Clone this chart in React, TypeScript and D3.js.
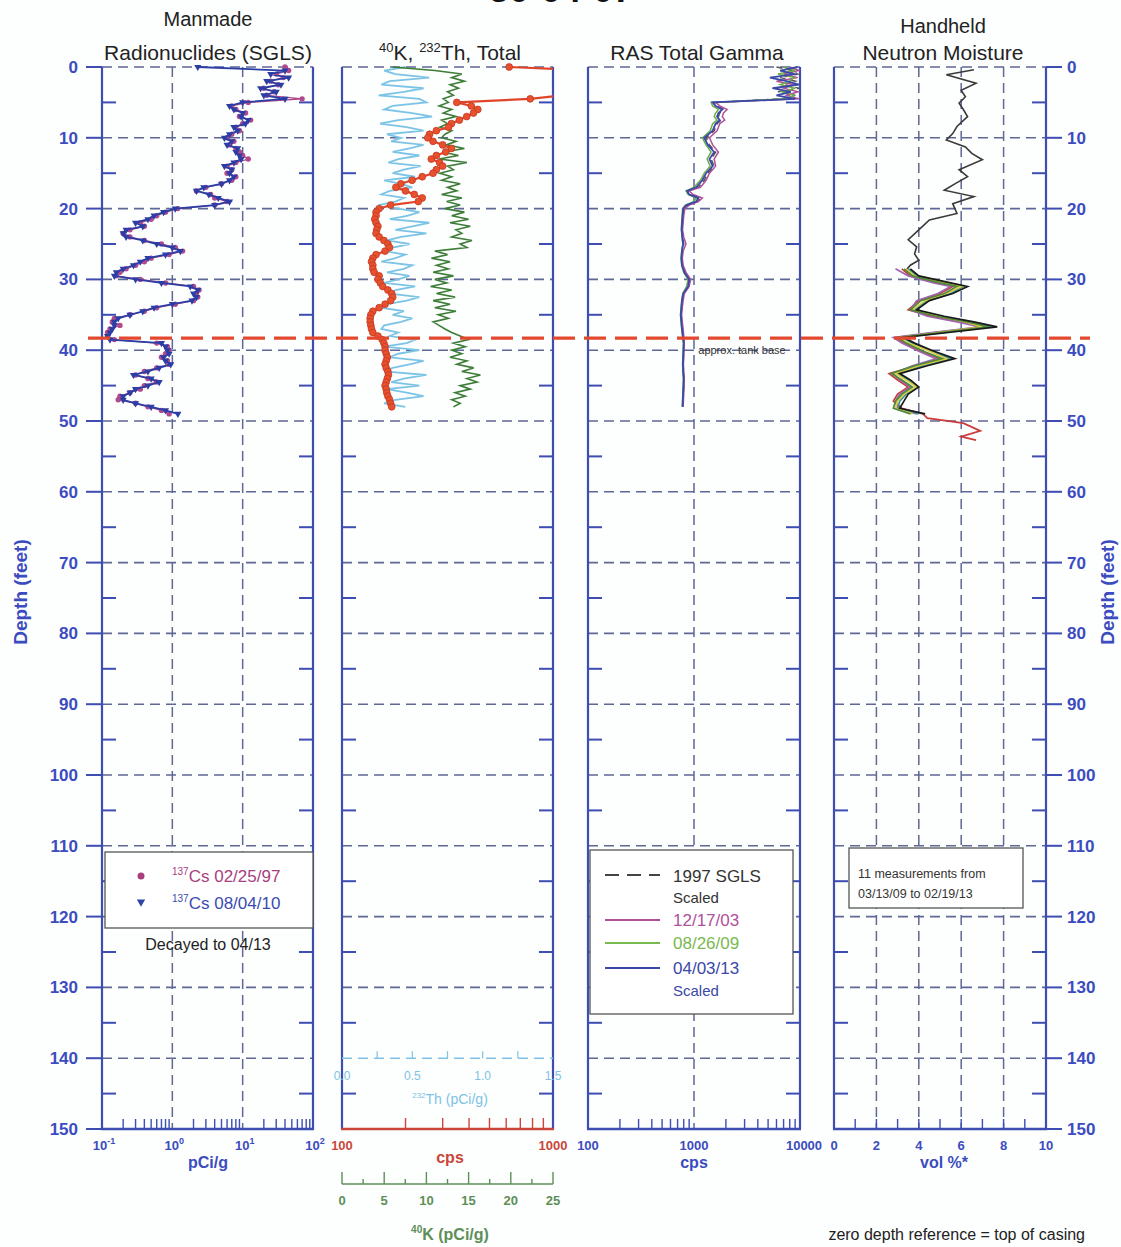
import { useEffect, useRef } from "react";
import * as d3 from "d3";

// depth sampling of the SGLS logs (feet)
const depthHalf = [0,0.5,1,1.5,2,2.5,3,3.5,4,4.5,5,5.5,6,6.5,7,7.5,8,8.5,9,9.5,10,10.5,11,11.5,12,12.5,13,13.5,14,14.5,15,15.5,16,16.5,17,17.5,18,18.5,19,19.5,20,20.5,21,21.5,22,22.5,23,23.5,24,24.5,25,25.5,26,26.5,27,27.5,28,28.5,29,29.5,30,30.5,31,31.5,32,32.5,33,33.5,34,34.5,35,35.5,36,36.5,37,37.5,38,38.5,39,39.5,40,40.5,41,41.5,42,42.5,43,43.5,44,44.5,45,45.5,46,46.5,47,47.5,48,48.5,49];

// 137Cs pCi/g
const cs1997 = [40,45,30,38,25,32,20,28,22,70, 12,7,8,11,9,13,10,8,9,7, 6,7.5,6.5,8,9,10,12,8,6,7, 6,8,7,5,3,2.2,3.5,4,6,4, 1.2,0.8,0.6,0.5,0.35,0.4,0.25,0.2,0.25,0.4, 0.7,1.1,1.4,0.9,0.5,0.4,0.3,0.22,0.18,0.16, 0.35,0.8,2.0,2.4,2.2,2.3,2.0,1.1,0.6,0.4, 0.25,0.15,0.14,0.18,0.13,0.12,0.12,0.15,0.6,0.85, 0.9,0.8,0.7,0.85,0.9,0.6,0.4,0.3,0.45,0.6, 0.4,0.35,0.25,0.18,0.17,0.3,0.45,0.7,0.9];
const cs2010 = [2.3,40,25,45,22,35,18,30,20,40, 10,6.5,7.5,10,9.5,12,11,7.5,8.5,6.5, 5.5,7,6,8.5,8,9,9.5,7.5,5.5,7, 6.5,7.5,6.5,5,2.8,2.2,3.3,4.5,6.5,4, 1.1,0.75,0.55,0.45,0.3,0.38,0.22,0.2,0.22,0.38, 0.6,1.0,1.3,0.8,0.45,0.35,0.28,0.2,0.16,0.15, 0.3,0.7,1.8,2.3,2.0,2.2,1.9,1.0,0.55,0.38, 0.25,0.17,0.15,0.15,0.14,0.13,0.12,0.13,0.7,0.8, 0.85,0.9,0.75,0.8,0.95,0.65,0.45,0.28,0.5,0.65, 0.45,0.3,0.25,0.2,0.2,0.3,0.5,0.8,1.2];

// 40K pCi/g, 232Th pCi/g, total gamma cps
const k40 = [6.0,11.0,14.2,13.0,14.5,12.8,13.8,12.5,13.2,12.0, 12.6,11.5,13.0,12.0,13.5,11.8,12.5,11.6,13.0,12.2, 11.8,13.5,12.4,14.5,12.0,13.8,11.5,14.8,12.5,13.2, 11.6,13.0,11.8,14.0,12.5,13.6,11.8,14.2,12.4,14.0, 12.2,14.5,13.0,15.0,12.8,15.2,13.5,14.2,13.0,15.4, 14.0,14.8,11.0,12.5,10.6,12.8,11.2,12.6,10.8,13.2, 11.0,12.4,10.5,13.0,11.2,13.4,10.8,12.8,11.0,13.5, 11.4,12.6,10.8,11.5,12.2,13.0,14.0,15.0,13.2,14.6, 13.0,14.2,12.8,14.8,13.6,15.6,14.2,16.4,14.8,16.0, 14.0,15.2,13.4,14.6,13.0,14.0,13.2,null,null];
const th232 = [0.45,0.30,0.38,0.62,0.34,0.28,0.58,0.44,0.26,0.55, 0.60,0.36,0.30,0.50,0.64,0.40,0.27,0.46,0.58,0.32, 0.42,0.35,0.58,0.48,0.36,0.55,0.40,0.33,0.56,0.44, 0.36,0.52,0.30,0.42,0.50,0.34,0.28,0.44,0.38,0.26, 0.40,0.55,0.47,0.34,0.62,0.50,0.38,0.60,0.42,0.32, 0.48,0.36,0.30,0.45,0.38,0.28,0.50,0.44,0.32,0.48, 0.40,0.30,0.52,0.38,0.34,0.55,0.46,0.32,0.28,0.44, 0.36,0.50,0.42,0.30,0.28,0.40,0.34,0.52,0.46,0.30, 0.55,0.40,0.34,0.58,0.48,0.36,0.30,0.60,0.44,0.35, 0.55,0.32,0.46,0.58,0.38,0.30,0.45,null,null];
const totalCps = [620,1500,1600,1500,1400,1500,1400,1300,1100,780, 350,410,440,420,390,360,330,320,280,260, 255,270,300,330,310,280,265,290,300,280, 270,240,215,190,180,200,220,240,230,170, 150,145,145,143,145,148,146,145,150,158, 165,168,160,145,140,138,140,140,142,150, 148,152,156,165,172,174,170,160,150,140, 137,136,136,137,138,140,148,155,158,160, 160,162,164,162,160,162,165,166,164,162, 160,162,163,165,168,170,172,null,null];

// RAS total gamma (cps)
const rasDepth = [0,0.5,1,1.5,2,2.5,3,3.5,4,4.5, 5,5.5,6,6.5,7,7.5,8, 9,10,11,12,13,14,15,16,17, 17.5,18,18.5,19,19.5,20, 21,22,23,24,25,26,27,28,29,30,31,32,33,34,35,36,37,38,39,40,41,42,43,44,45,46,47,48];
const ras1997 = [6000,8500,9500,6500,9000,7000,9800,6200,9000,6800, 1550,1650,1900,1750,1700,1800,1650, 1550,1300,1400,1600,1450,1550,1350,1250,1100, 880,940,1150,1080,870,800, 790,780,770,785,800,780,765,780,820,910,890,800,780,765,755,765,780,790,805,800,795,790,795,805,800,795,790,785];
const ras2003 = [8000,9800,7000,9500,6000,8800,7000,9600,7500,9800, 1600,1750,2050,1900,1850,1950,1750, 1650,1400,1500,1700,1550,1600,1400,1300,1150, 900,980,1200,1100,900,820, 800,790,780,800,840,790,775,790,840,930,900,810,790,775,765,775,790,800,810,805,800,795,800,810,805,800,795,790];
const ras2009 = [7000,9000,6200,8800,8000,6500,9000,6800,8800,7500, 1450,1500,1700,1600,1550,1650,1500, 1420,1200,1300,1450,1330,1420,1250,1150,1000, 840,880,1050,1000,830,780, 775,765,760,770,785,765,755,765,800,880,850,785,765,755,745,755,765,780,795,790,785,780,785,795,790,785,780,775];
const ras2013 = [9500,6500,9000,5200,7500,9800,5500,8200,6000,9000, 1500,1600,1850,1700,1650,1750,1600, 1500,1250,1350,1550,1400,1500,1300,1200,1050, 860,900,1100,1050,850,790, 780,770,765,775,790,770,760,770,810,900,880,790,770,760,750,760,770,785,800,795,790,785,790,800,795,790,785,780];

// neutron moisture (vol %)
const nmUpperDepth = [0.4,1.1,2.3,3.3,4.2,5.1,6.0,7.0,8.4,9.4,10.3,11.3,12.2,13.1,14.5,15.5,16.5,17.4,18.3,19.3,20.7,21.6,23.0,24.4,25.4,26.4,27.3,28.0,28.7];
const nmUpper = [6.6,5.3,6.7,6.0,6.2,5.9,6.1,6.3,5.8,5.6,5.3,6.2,6.5,7.0,5.9,6.3,5.7,5.2,6.6,5.6,5.8,4.5,4.0,3.5,3.9,3.8,4.0,3.6,3.4];
const nmLowerDepth = [28.5,29.5,30.5,31.0,32.0,33.0,34.3,35.2,36.0,36.7,37.5,38.2,39.0,40.0,41.2,42.2,43.3,44.2,45.2,46.2,47.2,48.2,49.0];
const nmBlack = [3.6,4.0,5.5,6.3,5.6,4.5,3.9,5.2,6.6,7.7,5.4,3.3,3.8,4.6,5.7,4.4,3.1,3.6,4.0,3.5,3.3,3.1,4.3];
const nmGreen = [3.3,3.7,5.0,5.8,5.2,4.1,3.6,4.8,6.3,7.3,5.0,3.0,3.4,4.1,5.1,3.8,2.7,3.2,3.7,3.2,2.9,2.8,3.6];
const nmYellow = [3.4,3.8,5.2,6.0,5.3,4.3,3.7,4.9,6.2,7.0,4.9,3.1,3.5,4.4,5.3,4.0,2.9,3.4,3.9,3.3,3.0,2.9,3.7];
const nmMagenta = [2.9,3.5,4.7,5.5,4.9,3.9,3.6,4.4,5.8,6.9,4.6,2.8,3.2,3.9,4.8,3.7,2.8,3.1,3.6,3.1,2.9,3.0,3.9];
const nmTeal = [3.5,3.9,5.3,6.1,5.5,4.4,3.8,5.0,6.4,7.4,5.2,3.2,3.7,4.5,5.5,4.2,3.0,3.5,3.9,3.4,3.1,3.0,4.0];
const nmRedDepth = [28.5,29.5,30.5,31.0,32.0,33.0,34.3,35.2,36.0,36.7,37.5,38.2,39.0,40.0,41.2,42.2,43.3,44.2,45.2,46.2,47.2,48.2,49.0,49.6,50.3,51.4,52.2,52.7];
const nmRed = [3.2,3.6,4.9,5.6,5.0,4.0,3.5,4.6,6.0,7.1,4.8,2.9,3.3,4.0,5.0,3.9,2.6,3.0,3.5,3.0,2.8,3.2,4.2,4.4,6.1,6.9,6.0,6.7];

const depthTicks = [0,10,20,30,40,50,60,70,80,90,100,110,120,130,140,150];
const tankBase = 38.3;

const AXIS = "#3d4db2";
const GRID = "#5e6795";
const LABEL = "#3b4cc0";
const FONT = "'Liberation Sans', Arial, sans-serif";

function App() {
  const ref = useRef<SVGSVGElement>(null);

  useEffect(() => {
    const svg = d3.select(ref.current);
    svg.selectAll("*").remove();

    const y = d3.scaleLinear().domain([0, 150]).range([67, 1129]);
    const yTop = y(0), yBot = y(150);

    const xCs = d3.scaleLog().domain([0.1, 100]).range([102, 313]);
    const xTot = d3.scaleLog().domain([100, 1000]).range([342, 553]);
    const xK = d3.scaleLinear().domain([0, 25]).range([342, 553]);
    const xTh = d3.scaleLinear().domain([0, 1.5]).range([342, 553]);
    const xRas = d3.scaleLog().domain([100, 10000]).range([588, 800]);
    const xNm = d3.scaleLinear().domain([0, 10]).range([834, 1046]);

    const panels = [
      { id: "p1", x0: 102, x1: 313, vgrid: [xCs(1), xCs(10)], bottom: AXIS },
      { id: "p2", x0: 342, x1: 553, vgrid: [] as number[], bottom: "#c9473a" },
      { id: "p3", x0: 588, x1: 800, vgrid: [xRas(1000)], bottom: AXIS },
      { id: "p4", x0: 834, x1: 1046, vgrid: [2, 4, 6, 8].map((v) => xNm(v)), bottom: AXIS },
    ];

    const defs = svg.append("defs");
    panels.forEach((p) => {
      defs.append("clipPath").attr("id", "clip-" + p.id)
        .append("rect").attr("x", p.x0).attr("y", yTop - 4)
        .attr("width", p.x1 - p.x0).attr("height", yBot - yTop + 4);
    });

    const text = (x: number, yy: number, s: string, size: number, fill: string, anchor = "middle", weight = "normal") =>
      svg.append("text").attr("x", x).attr("y", yy).attr("font-size", size)
        .attr("fill", fill).attr("text-anchor", anchor).attr("font-weight", weight).text(s);

    // chart title (cut at top of page, as in the scan)
    text(561, 2, "30-04-07", 36, "#111", "middle", "bold");

    // panel titles
    text(208, 26, "Manmade", 20, "#222");
    text(208, 60, "Radionuclides (SGLS)", 21, "#222");
    const t2 = svg.append("text").attr("x", 450).attr("y", 60).attr("font-size", 21)
      .attr("fill", "#222").attr("text-anchor", "middle");
    t2.append("tspan").attr("font-size", 13).attr("dy", -8).text("40");
    t2.append("tspan").attr("dy", 8).text("K, ");
    t2.append("tspan").attr("font-size", 13).attr("dy", -8).text("232");
    t2.append("tspan").attr("dy", 8).text("Th, Total");
    text(697, 60, "RAS Total Gamma", 21, "#222");
    text(943, 33, "Handheld", 20, "#222");
    text(943, 60, "Neutron Moisture", 21, "#222");

    // grids, borders, ticks
    panels.forEach((p) => {
      const g = svg.append("g");
      depthTicks.slice(0, 15).forEach((d) => {
        if (p.id === "p2" && d === 140) return;
        g.append("line").attr("x1", p.x0).attr("x2", p.x1).attr("y1", y(d)).attr("y2", y(d))
          .attr("stroke", GRID).attr("stroke-width", 1.6).attr("stroke-dasharray", "10,6");
      });
      p.vgrid.forEach((vx) => {
        g.append("line").attr("x1", vx).attr("x2", vx).attr("y1", yTop).attr("y2", yBot)
          .attr("stroke", GRID).attr("stroke-width", 1.5).attr("stroke-dasharray", "10,6");
      });
      d3.range(5, 150, 10).forEach((d) => {
        g.append("line").attr("x1", p.x0).attr("x2", p.x0 + 14).attr("y1", y(d)).attr("y2", y(d))
          .attr("stroke", AXIS).attr("stroke-width", 2);
        g.append("line").attr("x1", p.x1 - 14).attr("x2", p.x1).attr("y1", y(d)).attr("y2", y(d))
          .attr("stroke", AXIS).attr("stroke-width", 2);
      });
      [p.x0, p.x1].forEach((bx) => {
        g.append("line").attr("x1", bx).attr("x2", bx).attr("y1", yTop).attr("y2", yBot)
          .attr("stroke", AXIS).attr("stroke-width", 2.2);
      });
      g.append("line").attr("x1", p.x0 - 1).attr("x2", p.x1 + 1).attr("y1", yBot).attr("y2", yBot)
        .attr("stroke", p.bottom).attr("stroke-width", 2.4);
    });

    // bottom ticks
    const bottomTicks = (xs: (v: number) => number, vals: number[], color: string, len: number) => {
      vals.forEach((v) => {
        svg.append("line").attr("x1", xs(v)).attr("x2", xs(v)).attr("y1", yBot).attr("y2", yBot - len)
          .attr("stroke", color).attr("stroke-width", 1.4);
      });
    };
    const logMinor = (decades: number[]) => decades.flatMap((k) => [2, 3, 4, 5, 6, 7, 8, 9].map((m) => m * k));
    bottomTicks(xCs, logMinor([0.1, 1, 10]), AXIS, 10);
    bottomTicks(xTot, logMinor([100]), "#c9473a", 11);
    bottomTicks(xRas, logMinor([100, 1000]), AXIS, 10);
    bottomTicks(xNm, [1, 2, 3, 4, 5, 6, 7, 8, 9], AXIS, 10);

    // depth axes
    depthTicks.forEach((d) => {
      svg.append("line").attr("x1", 86).attr("x2", 102).attr("y1", y(d)).attr("y2", y(d))
        .attr("stroke", AXIS).attr("stroke-width", 2);
      svg.append("line").attr("x1", 1046).attr("x2", 1062).attr("y1", y(d)).attr("y2", y(d))
        .attr("stroke", AXIS).attr("stroke-width", 2);
      text(78, y(d) + 6, String(d), 17, LABEL, "end", "bold");
      text(1067, y(d) + 6, String(d), 17, LABEL, "start", "bold");
    });
    svg.append("text").attr("transform", "translate(27,592) rotate(-90)").attr("text-anchor", "middle")
      .attr("font-size", 19).attr("font-weight", "bold").attr("fill", LABEL).text("Depth (feet)");
    svg.append("text").attr("transform", "translate(1114,592) rotate(-90)").attr("text-anchor", "middle")
      .attr("font-size", 19).attr("font-weight", "bold").attr("fill", LABEL).text("Depth (feet)");

    // panel 1 x labels
    [[0.1, "-1"], [1, "0"], [10, "1"], [100, "2"]].forEach(([v, e]) => {
      const t = svg.append("text").attr("x", xCs(v as number) + 2).attr("y", 1150).attr("font-size", 13)
        .attr("font-weight", "bold").attr("fill", LABEL).attr("text-anchor", "middle");
      t.append("tspan").text("10");
      t.append("tspan").attr("font-size", 9).attr("dy", -6).text(e as string);
    });
    text(208, 1168, "pCi/g", 16, LABEL, "middle", "bold");

    // panel 2 axes
    text(342, 1150, "100", 13, "#c9473a", "middle", "bold");
    text(553, 1150, "1000", 13, "#c9473a", "middle", "bold");
    text(450, 1163, "cps", 16, "#c9473a", "middle", "bold");
    // 232Th axis along the 140 ft line
    svg.append("line").attr("x1", 342).attr("x2", 553).attr("y1", y(140)).attr("y2", y(140))
      .attr("stroke", "#7ec3e3").attr("stroke-width", 1.6).attr("stroke-dasharray", "10,6");
    d3.range(0.25, 1.5, 0.25).forEach((v) => {
      svg.append("line").attr("x1", xTh(v)).attr("x2", xTh(v)).attr("y1", y(140)).attr("y2", y(140) - 7)
        .attr("stroke", "#7ec3e3").attr("stroke-width", 1.2);
    });
    [0, 0.5, 1, 1.5].forEach((v) => text(xTh(v), y(140) + 22, v.toFixed(1), 12, "#7ec3e3"));
    const tTh = svg.append("text").attr("x", 450).attr("y", 1104).attr("font-size", 14)
      .attr("fill", "#7ec3e3").attr("text-anchor", "middle");
    tTh.append("tspan").attr("font-size", 8).attr("dy", -6).text("232");
    tTh.append("tspan").attr("dy", 6).text("Th (pCi/g)");
    // 40K axis below
    const kAxisY = 1184;
    const kCol = "#5d8f58";
    svg.append("line").attr("x1", 342).attr("x2", 553).attr("y1", kAxisY).attr("y2", kAxisY)
      .attr("stroke", kCol).attr("stroke-width", 1.6);
    d3.range(0, 25.1, 2.5).forEach((v, i) => {
      svg.append("line").attr("x1", xK(v)).attr("x2", xK(v)).attr("y1", kAxisY).attr("y2", kAxisY - (i % 2 === 0 ? 12 : 5))
        .attr("stroke", kCol).attr("stroke-width", 1.4);
    });
    [0, 5, 10, 15, 20, 25].forEach((v) => text(xK(v), 1205, String(v), 13, kCol, "middle", "bold"));
    const tK = svg.append("text").attr("x", 450).attr("y", 1240).attr("font-size", 16)
      .attr("fill", kCol).attr("text-anchor", "middle").attr("font-weight", "bold");
    tK.append("tspan").attr("font-size", 10).attr("dy", -7).text("40");
    tK.append("tspan").attr("dy", 7).text("K (pCi/g)");

    // panel 3 axis labels
    [[100, "100"], [1000, "1000"], [10000, "10000"]].forEach(([v, s]) =>
      text(xRas(v as number) + (v === 10000 ? 4 : 0), 1150, s as string, 13, LABEL, "middle", "bold"));
    text(694, 1168, "cps", 16, LABEL, "middle", "bold");

    // panel 4 axis labels
    [0, 2, 4, 6, 8, 10].forEach((v) => text(xNm(v), 1150, String(v), 13, LABEL, "middle", "bold"));
    text(944, 1168, "vol %*", 16, LABEL, "middle", "bold");

    const series = (ds: number[], vs: (number | null)[]) => ds.map((d, i) => [d, vs[i]] as [number, number | null]);
    const lineFor = (xs: (v: number) => number) =>
      d3.line<[number, number | null]>().defined((d) => d[1] != null)
        .x((d) => xs(d[1] as number)).y((d) => y(d[0]));

    // panel 1 data
    const g1 = svg.append("g").attr("clip-path", "url(#clip-p1)");
    const s97 = series(depthHalf, cs1997);
    const s10 = series(depthHalf, cs2010);
    g1.append("path").datum(s97).attr("d", lineFor(xCs)).attr("fill", "none")
      .attr("stroke", "#a94785").attr("stroke-width", 1.3);
    g1.selectAll(".c97").data(s97).join("circle").attr("cx", (d) => xCs(d[1] as number)).attr("cy", (d) => y(d[0]))
      .attr("r", 2.7).attr("fill", "#b04a8c");
    g1.append("path").datum(s10).attr("d", lineFor(xCs)).attr("fill", "none")
      .attr("stroke", "#2b3ea6").attr("stroke-width", 1.8);
    const tri = d3.symbol(d3.symbolTriangle, 22);
    g1.selectAll(".c10").data(s10).join("path").attr("d", tri)
      .attr("transform", (d) => `translate(${xCs(d[1] as number)},${y(d[0])}) rotate(180)`)
      .attr("fill", "#2b3ea6");

    // panel 2 data
    const g2 = svg.append("g").attr("clip-path", "url(#clip-p2)");
    g2.append("path").datum(series(depthHalf, th232)).attr("d", lineFor(xTh)).attr("fill", "none")
      .attr("stroke", "#7cc4e6").attr("stroke-width", 1.8);
    g2.append("path").datum(series(depthHalf, k40)).attr("d", lineFor(xK)).attr("fill", "none")
      .attr("stroke", "#3d7d38").attr("stroke-width", 1.6);
    const sTot = series(depthHalf, totalCps);
    g2.append("path").datum(sTot).attr("d", lineFor(xTot)).attr("fill", "none")
      .attr("stroke", "#e0452a").attr("stroke-width", 2.2);
    g2.selectAll(".ct").data(sTot.filter((d) => d[1] != null)).join("circle")
      .attr("cx", (d) => xTot(d[1] as number)).attr("cy", (d) => y(d[0])).attr("r", 3.4)
      .attr("fill", "#e8502e").attr("stroke", "#c23a22").attr("stroke-width", 0.8);

    // panel 3 data
    const g3 = svg.append("g").attr("clip-path", "url(#clip-p3)");
    g3.append("path").datum(series(rasDepth, ras1997)).attr("d", lineFor(xRas)).attr("fill", "none")
      .attr("stroke", "#555").attr("stroke-width", 1.5).attr("stroke-dasharray", "6,4");
    g3.append("path").datum(series(rasDepth, ras2003)).attr("d", lineFor(xRas)).attr("fill", "none")
      .attr("stroke", "#b0509a").attr("stroke-width", 1.5);
    g3.append("path").datum(series(rasDepth, ras2009)).attr("d", lineFor(xRas)).attr("fill", "none")
      .attr("stroke", "#6fae4a").attr("stroke-width", 1.5);
    g3.append("path").datum(series(rasDepth, ras2013)).attr("d", lineFor(xRas)).attr("fill", "none")
      .attr("stroke", "#3a48a8").attr("stroke-width", 1.8);

    // panel 4 data
    const g4 = svg.append("g").attr("clip-path", "url(#clip-p4)");
    g4.append("path").datum(series(nmUpperDepth, nmUpper)).attr("d", lineFor(xNm)).attr("fill", "none")
      .attr("stroke", "#3a3a3a").attr("stroke-width", 1.6);
    const lower: [number[], number[], string][] = [
      [nmRedDepth, nmRed, "#cc3b3b"],
      [nmLowerDepth, nmMagenta, "#a064b4"],
      [nmLowerDepth, nmTeal, "#3f8f9a"],
      [nmLowerDepth, nmYellow, "#d8cf3a"],
      [nmLowerDepth, nmGreen, "#4f8a3c"],
      [nmLowerDepth, nmBlack, "#1a1a1a"],
    ];
    lower.forEach(([ds, vs, c]) => {
      g4.append("path").datum(series(ds, vs)).attr("d", lineFor(xNm)).attr("fill", "none")
        .attr("stroke", c).attr("stroke-width", 1.7);
    });

    // tank base line
    svg.append("line").attr("x1", 88).attr("x2", 1090).attr("y1", y(tankBase)).attr("y2", y(tankBase))
      .attr("stroke", "#e3492f").attr("stroke-width", 3.2).attr("stroke-dasharray", "22,9");
    text(742, 354, "approx. tank base", 11, "#333");

    // legend panel 1
    svg.append("rect").attr("x", 105).attr("y", 852).attr("width", 208).attr("height", 76)
      .attr("fill", "#fff").attr("stroke", "#555").attr("stroke-width", 1.3);
    svg.append("circle").attr("cx", 141).attr("cy", 876).attr("r", 3.5).attr("fill", "#a8407f");
    svg.append("path").attr("d", d3.symbol(d3.symbolTriangle, 30)).attr("transform", "translate(141,902) rotate(180)")
      .attr("fill", "#2f44a8");
    [["02/25/97", 882, "#a8407f"], ["08/04/10", 909, "#3a4cb0"]].forEach(([s, yy, c]) => {
      const t = svg.append("text").attr("x", 172).attr("y", yy as number).attr("font-size", 17).attr("fill", c as string);
      t.append("tspan").attr("font-size", 10).attr("dy", -7).text("137");
      t.append("tspan").attr("dy", 7).text("Cs " + s);
    });
    text(208, 950, "Decayed to 04/13", 16, "#222");

    // legend panel 3
    svg.append("rect").attr("x", 590).attr("y", 850).attr("width", 203).attr("height", 164)
      .attr("fill", "#fff").attr("stroke", "#555").attr("stroke-width", 1.3);
    svg.append("line").attr("x1", 605).attr("x2", 660).attr("y1", 875).attr("y2", 875)
      .attr("stroke", "#444").attr("stroke-width", 2).attr("stroke-dasharray", "14,8");
    text(673, 882, "1997 SGLS", 17, "#333", "start");
    text(673, 903, "Scaled", 15, "#333", "start");
    [[920, "#b0509a", "12/17/03"], [943, "#7ab850", "08/26/09"], [968, "#3a48a8", "04/03/13"]].forEach(([yy, c, s]) => {
      svg.append("line").attr("x1", 605).attr("x2", 660).attr("y1", yy as number).attr("y2", yy as number)
        .attr("stroke", c as string).attr("stroke-width", 2);
      text(673, (yy as number) + 6, s as string, 17, c as string, "start");
    });
    text(673, 996, "Scaled", 15, "#3a48a8", "start");

    // legend panel 4
    svg.append("rect").attr("x", 849).attr("y", 848).attr("width", 174).attr("height", 60)
      .attr("fill", "#fff").attr("stroke", "#555").attr("stroke-width", 1.3);
    text(858, 878, "11 measurements from", 12.5, "#333", "start");
    text(858, 898, "03/13/09 to 02/19/13", 12.5, "#333", "start");

    // footnote
    text(1085, 1240, "zero depth reference = top of casing", 16, "#222", "end");
  }, []);

  return (
    <svg
      ref={ref}
      width={1121}
      height={1247}
      fontFamily={FONT}
      style={{ position: "absolute", left: 0, top: 0, background: "#fdfefe" }}
    />
  );
}

export default App;
